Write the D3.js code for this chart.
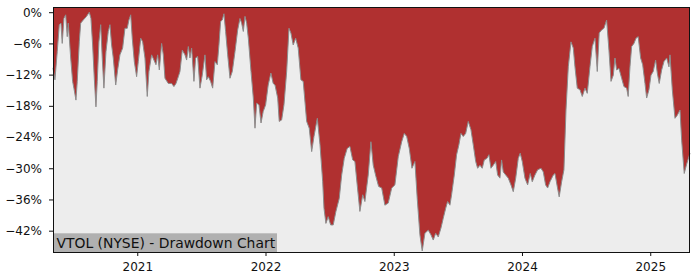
<!DOCTYPE html>
<html>
<head>
<meta charset="utf-8">
<script src="https://cdn.jsdelivr.net/npm/d3@7"></script>
<style>
  body { margin: 0; background: #fff; }
  text { font-family: "DejaVu Sans", sans-serif; }
</style>
</head>
<body>
<script>
// Drawdown series
// x is a decimal year, value is the drawdown in percent
const years = [
  2020.343, 2020.358, 2020.376, 2020.392, 2020.405, 2020.415, 2020.428, 2020.442, 2020.454, 2020.462,
  2020.481, 2020.496, 2020.506, 2020.522, 2020.532, 2020.548, 2020.559, 2020.579, 2020.605, 2020.626,
  2020.639, 2020.652, 2020.665, 2020.678, 2020.688, 2020.701, 2020.715, 2020.727, 2020.740, 2020.756,
  2020.774, 2020.787, 2020.800, 2020.813, 2020.832, 2020.847, 2020.865, 2020.886, 2020.904, 2020.922,
  2020.935, 2020.949, 2020.961, 2020.977, 2020.995, 2021.008, 2021.027, 2021.042, 2021.060, 2021.078,
  2021.091, 2021.112, 2021.130, 2021.146, 2021.159, 2021.172, 2021.190, 2021.203, 2021.216, 2021.242,
  2021.268, 2021.286, 2021.302, 2021.320, 2021.333, 2021.351, 2021.372, 2021.385, 2021.398, 2021.411,
  2021.424, 2021.442, 2021.455, 2021.471, 2021.489, 2021.507, 2021.528, 2021.541, 2021.554, 2021.572,
  2021.588, 2021.606, 2021.624, 2021.637, 2021.650, 2021.663, 2021.676, 2021.689, 2021.705, 2021.723,
  2021.741, 2021.762, 2021.783, 2021.801, 2021.814, 2021.827, 2021.840, 2021.853, 2021.866, 2021.887,
  2021.905, 2021.918, 2021.931, 2021.949, 2021.965, 2021.982, 2022.001, 2022.021, 2022.042, 2022.060,
  2022.074, 2022.095, 2022.107, 2022.126, 2022.144, 2022.165, 2022.183, 2022.198, 2022.216, 2022.235,
  2022.255, 2022.276, 2022.294, 2022.321, 2022.341, 2022.360, 2022.378, 2022.404, 2022.425, 2022.446,
  2022.456, 2022.471, 2022.489, 2022.508, 2022.528, 2022.549, 2022.575, 2022.594, 2022.614, 2022.637,
  2022.658, 2022.680, 2022.697, 2022.715, 2022.736, 2022.758, 2022.775, 2022.801, 2022.822, 2022.840,
  2022.861, 2022.882, 2022.906, 2022.931, 2022.957, 2022.984, 2023.009, 2023.035, 2023.062, 2023.082,
  2023.101, 2023.121, 2023.142, 2023.165, 2023.183, 2023.204, 2023.222, 2023.243, 2023.269, 2023.290,
  2023.308, 2023.327, 2023.347, 2023.368, 2023.386, 2023.405, 2023.420, 2023.438, 2023.451, 2023.472,
  2023.490, 2023.508, 2023.524, 2023.542, 2023.561, 2023.581, 2023.602, 2023.620, 2023.639, 2023.654,
  2023.672, 2023.690, 2023.706, 2023.727, 2023.742, 2023.758, 2023.776, 2023.795, 2023.810, 2023.828,
  2023.841, 2023.854, 2023.873, 2023.893, 2023.914, 2023.932, 2023.951, 2023.971, 2023.986, 2024.002,
  2024.023, 2024.044, 2024.064, 2024.080, 2024.101, 2024.122, 2024.148, 2024.166, 2024.184, 2024.200,
  2024.218, 2024.244, 2024.257, 2024.275, 2024.290, 2024.309, 2024.327, 2024.343, 2024.361, 2024.382,
  2024.400, 2024.413, 2024.431, 2024.452, 2024.470, 2024.491, 2024.509, 2024.530, 2024.548, 2024.569,
  2024.587, 2024.602, 2024.621, 2024.639, 2024.660, 2024.678, 2024.694, 2024.712, 2024.725, 2024.738,
  2024.756, 2024.777, 2024.795, 2024.816, 2024.828, 2024.842, 2024.855, 2024.873, 2024.889, 2024.906,
  2024.925, 2024.941, 2024.959, 2024.972, 2024.990, 2025.006, 2025.023, 2025.042, 2025.055, 2025.070,
  2025.089, 2025.107, 2025.128, 2025.146, 2025.154, 2025.172, 2025.193, 2025.211, 2025.232, 2025.245,
  2025.265, 2025.284, 2025.310
]
const drawdown = [
  -10.7, -13.0, -7.6, -2.4, -2.1, -6.0, -1.2, -0.5, -4.7, -2.1,
  -8.8, -13.3, -14.6, -16.9, -13.3, -5.7, -2.1, -1.5, -0.8, 0.0,
  -1.2, -6.3, -12.7, -18.2, -13.3, -5.7, -2.4, -8.8, -14.6, -7.6,
  -3.7, -2.4, -6.3, -8.8, -14.0, -11.1, -8.2, -6.9, -3.1, -3.1,
  -1.5, -0.5, -5.0, -9.5, -12.4, -9.5, -5.0, -5.7, -8.8, -16.2,
  -11.4, -8.2, -9.2, -10.1, -8.2, -11.1, -6.0, -8.2, -12.7, -13.7,
  -13.7, -14.3, -13.7, -12.4, -11.4, -7.3, -8.2, -9.2, -6.6, -8.8,
  -6.9, -13.3, -8.8, -8.5, -14.6, -12.1, -8.2, -13.0, -12.4, -13.3,
  -14.6, -9.5, -10.1, -6.3, -1.8, -1.5, -0.3, -3.7, -8.2, -12.7,
  -11.4, -7.6, -3.4, -1.2, -2.1, -3.7, -0.8, -2.1, -5.0, -11.4,
  -16.5, -22.3, -17.5, -17.8, -21.3, -19.1, -17.8, -14.0, -11.7, -13.7,
  -14.0, -16.5, -21.0, -20.7, -17.8, -11.4, -3.1, -4.0, -6.3, -5.0,
  -6.9, -13.0, -13.3, -21.0, -22.3, -26.8, -23.9, -20.4, -25.5, -32.6,
  -37.7, -40.6, -39.3, -40.9, -40.9, -38.3, -35.8, -31.3, -28.1, -26.2,
  -25.8, -28.4, -28.7, -33.2, -38.3, -35.1, -36.4, -31.3, -24.9, -29.4,
  -31.6, -33.5, -33.8, -37.1, -36.7, -33.8, -33.2, -27.8, -24.9, -23.3,
  -23.9, -26.2, -30.0, -28.7, -35.8, -42.8, -45.9, -42.5, -41.9, -42.8,
  -43.8, -42.5, -43.2, -41.5, -39.6, -37.7, -36.4, -37.1, -35.1, -31.3,
  -27.4, -25.5, -23.3, -23.9, -23.3, -21.0, -22.6, -25.5, -28.7, -30.0,
  -29.4, -30.0, -28.4, -28.1, -27.4, -30.0, -29.4, -28.7, -31.3, -31.9,
  -28.4, -30.7, -31.3, -31.9, -33.2, -34.5, -31.9, -28.1, -27.1, -28.7,
  -31.9, -33.2, -31.0, -32.6, -31.3, -30.3, -30.0, -30.7, -33.2, -33.8,
  -32.6, -31.3, -31.0, -33.5, -35.5, -32.6, -30.3, -18.8, -10.5, -5.7,
  -6.9, -10.5, -14.6, -14.9, -16.2, -14.6, -15.6, -10.5, -6.6, -5.0,
  -11.4, -4.0, -3.4, -3.1, -1.5, -7.3, -13.3, -12.1, -8.8, -11.1,
  -10.8, -12.7, -14.3, -14.6, -16.2, -10.5, -6.6, -6.0, -5.0, -4.7,
  -8.8, -10.1, -13.7, -16.5, -14.9, -12.1, -11.4, -9.2, -11.7, -13.7,
  -11.1, -9.5, -8.8, -10.5, -8.2, -14.9, -20.4, -19.8, -18.8, -24.6,
  -31.0, -29.2, -27.1
]
const tickYears = [2021, 2022, 2023, 2024, 2025]
const tickPcts = [0, -6, -12, -18, -24, -30, -36, -42]
const chartTitle = 'VTOL (NYSE) - Drawdown Chart'

CANVAS_WIDTH = 700
CANVAS_HEIGHT = 280

const margin = {top: 7, right: 10, bottom: 28, left: 53}
const plotW = CANVAS_WIDTH - margin.left - margin.right
const plotH = CANVAS_HEIGHT - margin.top - margin.bottom

const data = years.map((yr, i) => ({yr, dd: drawdown[i]}))

const svg = d3.select('body')
  .append('svg')
  .attr('width', CANVAS_WIDTH)
  .attr('height', CANVAS_HEIGHT)

const x = d3.scaleLinear()
  .domain(d3.extent(years))
  .range([margin.left, margin.left + plotW])

const y = d3.scaleLinear()
  .domain([-46.1, 1.0])
  .range([margin.top + plotH, margin.top])

// axes background
svg.append('rect')
  .attr('x', margin.left)
  .attr('y', margin.top)
  .attr('width', plotW)
  .attr('height', plotH)
  .attr('fill', '#ededed')

// red area from the top of the axes down to the drawdown curve
const area = d3.area()
  .x(d => x(d.yr))
  .y0(y(y.domain()[1]))
  .y1(d => y(d.dd))

svg.append('path')
  .datum(data)
  .attr('d', area)
  .attr('fill', '#b03030')

const line = d3.line()
  .x(d => x(d.yr))
  .y(d => y(d.dd))

svg.append('path')
  .datum(data)
  .attr('d', line)
  .attr('fill', 'none')
  .attr('stroke', '#8c8c8c')
  .attr('stroke-width', 1)

// title box in the lower left corner
const titleBox = svg.append('g')
titleBox.append('rect')
  .attr('x', margin.left)
  .attr('y', 233.3)
  .attr('width', 224)
  .attr('height', margin.top + plotH - 233.3)
  .attr('fill', '#b0b0b0')
titleBox.append('text')
  .attr('x', 56.5)
  .attr('y', 247.5)
  .attr('font-size', '13.9px')
  .attr('fill', '#111')
  .text(chartTitle)

// axes
const fmtPct = d => (d < 0 ? '\u2212' : '') + Math.abs(d) + '%'

const yAxis = svg.append('g')
  .attr('transform', `translate(${margin.left},0)`)
  .call(d3.axisLeft(y).tickValues(tickPcts).tickFormat(fmtPct).tickSize(4).tickPadding(7).tickSizeOuter(0))

const xAxis = svg.append('g')
  .attr('transform', `translate(0,${margin.top + plotH})`)
  .call(d3.axisBottom(x).tickValues(tickYears).tickFormat(d3.format('d')).tickSize(4).tickPadding(6).tickSizeOuter(0))

svg.selectAll('.domain').remove()
svg.selectAll('.tick text')
  .attr('font-family', '"DejaVu Sans", sans-serif')
  .attr('font-size', '12px')
  .attr('fill', '#111')
svg.selectAll('.tick line').attr('stroke', '#111')

// frame, offset half a pixel so the spines stay crisp
svg.append('rect')
  .attr('x', margin.left + 0.5)
  .attr('y', margin.top + 0.5)
  .attr('width', plotW - 1)
  .attr('height', plotH)
  .attr('fill', 'none')
  .attr('stroke', '#111')
  .attr('stroke-width', 1)
</script>
</body>
</html>
